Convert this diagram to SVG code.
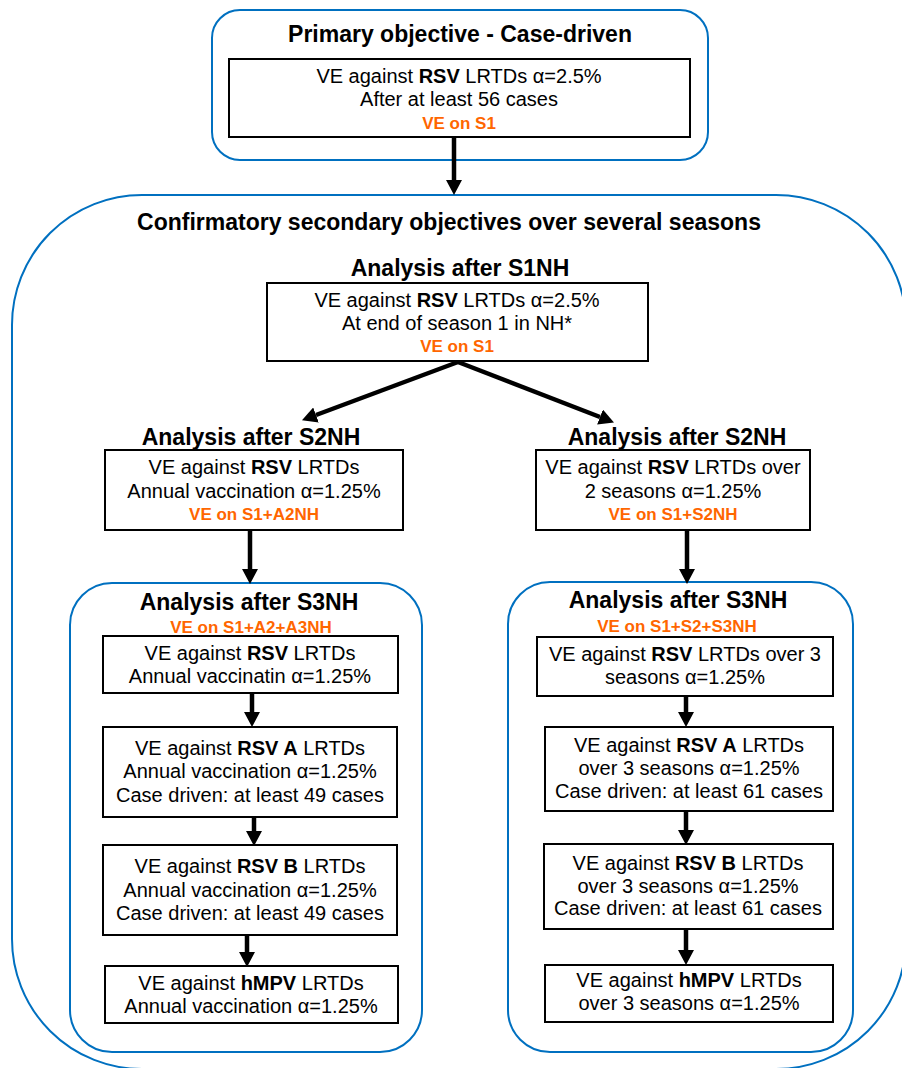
<svg xmlns="http://www.w3.org/2000/svg" width="902" height="1068" viewBox="0 0 902 1068">
<defs>
<style>
text{font-family:"Liberation Sans",Arial,sans-serif;fill:#000;text-anchor:middle}
.h{font-size:23px;font-weight:bold}
.t{font-size:20px}
.o{font-size:17px;font-weight:bold;fill:#FF6600}
.b{font-weight:bold}
.grp{fill:none;stroke:#0070C0;stroke-width:2}
.box{fill:#fff;stroke:#000;stroke-width:2}
.arr{stroke:#000;stroke-width:4.5;fill:none;marker-end:url(#ah)}
</style>
<marker id="ah" markerUnits="userSpaceOnUse" markerWidth="15" markerHeight="16" refX="0" refY="8" orient="auto">
<path d="M0,0 L15,8 L0,16 z" fill="#000"/>
</marker>
</defs>
<rect width="902" height="1068" fill="#fff"/>

<g id="primary">
<rect class="grp" x="212" y="10" width="496" height="150" rx="28"/>
<text class="h" x="460" y="42">Primary objective - Case-driven</text>
<rect class="box" x="229" y="59" width="461" height="78"/>
<text class="t" x="459" y="83">VE against <tspan class="b">RSV</tspan> LRTDs α=2.5%</text>
<text class="t" x="459" y="106">After at least 56 cases</text>
<text class="o" x="459" y="129">VE on S1</text>
</g>

<g id="secondary">
<rect class="grp" x="12" y="195" width="894" height="874" rx="130"/>
<text class="h" x="449" y="230">Confirmatory secondary objectives over several seasons</text>
</g>

<g id="s1nh">
<text class="h" x="460" y="276">Analysis after S1NH</text>
<rect class="box" x="267" y="283" width="381" height="78"/>
<text class="t" x="457" y="307">VE against <tspan class="b">RSV</tspan> LRTDs α=2.5%</text>
<text class="t" x="457" y="330">At end of season 1 in NH*</text>
<text class="o" x="457" y="352">VE on S1</text>
</g>

<g id="s2nh-left">
<text class="h" x="251" y="445">Analysis after S2NH</text>
<rect class="box" x="105" y="450" width="298" height="80"/>
<text class="t" x="254" y="474">VE against <tspan class="b">RSV</tspan> LRTDs</text>
<text class="t" x="254" y="498">Annual vaccination α=1.25%</text>
<text class="o" x="254" y="520">VE on S1+A2NH</text>
</g>

<g id="s2nh-right">
<text class="h" x="677" y="445">Analysis after S2NH</text>
<rect class="box" x="536" y="450" width="274" height="80"/>
<text class="t" x="673" y="474">VE against <tspan class="b">RSV</tspan> LRTDs over</text>
<text class="t" x="673" y="498">2 seasons α=1.25%</text>
<text class="o" x="673" y="520">VE on S1+S2NH</text>
</g>

<g id="s3nh-left">
<rect class="grp" x="70" y="583" width="352" height="469" rx="42"/>
<text class="h" x="249" y="610">Analysis after S3NH</text>
<text class="o" x="251" y="633">VE on S1+A2+A3NH</text>
</g>
<g id="l-rsv">
<rect class="box" x="103" y="636" width="295" height="57"/>
<text class="t" x="250" y="660">VE against <tspan class="b">RSV</tspan> LRTDs</text>
<text class="t" x="250" y="683">Annual vaccinatin α=1.25%</text>
</g>
<g id="l-rsva">
<rect class="box" x="103" y="727" width="294" height="90"/>
<text class="t" x="250" y="755">VE against <tspan class="b">RSV A</tspan> LRTDs</text>
<text class="t" x="250" y="778">Annual vaccination α=1.25%</text>
<text class="t" x="250" y="802">Case driven: at least 49 cases</text>
</g>
<g id="l-rsvb">
<rect class="box" x="103" y="845" width="294" height="90"/>
<text class="t" x="250" y="873">VE against <tspan class="b">RSV B</tspan> LRTDs</text>
<text class="t" x="250" y="897">Annual vaccination α=1.25%</text>
<text class="t" x="250" y="920">Case driven: at least 49 cases</text>
</g>
<g id="l-hmpv">
<rect class="box" x="105" y="966" width="293" height="57"/>
<text class="t" x="251" y="990">VE against <tspan class="b">hMPV</tspan> LRTDs</text>
<text class="t" x="251" y="1013">Annual vaccination α=1.25%</text>
</g>

<g id="s3nh-right">
<rect class="grp" x="508" y="582" width="345" height="470" rx="42"/>
<text class="h" x="678" y="608">Analysis after S3NH</text>
<text class="o" x="677" y="632">VE on S1+S2+S3NH</text>
</g>
<g id="r-rsv">
<rect class="box" x="537" y="637" width="296" height="59"/>
<text class="t" x="685" y="661">VE against <tspan class="b">RSV</tspan> LRTDs over 3</text>
<text class="t" x="685" y="684">seasons α=1.25%</text>
</g>
<g id="r-rsva">
<rect class="box" x="545" y="727" width="288" height="84"/>
<text class="t" x="689" y="752">VE against <tspan class="b">RSV A</tspan> LRTDs</text>
<text class="t" x="689" y="775">over 3 seasons α=1.25%</text>
<text class="t" x="689" y="798">Case driven: at least 61 cases</text>
</g>
<g id="r-rsvb">
<rect class="box" x="544" y="844" width="289" height="85"/>
<text class="t" x="688" y="870">VE against <tspan class="b">RSV B</tspan> LRTDs</text>
<text class="t" x="688" y="893">over 3 seasons α=1.25%</text>
<text class="t" x="688" y="915">Case driven: at least 61 cases</text>
</g>
<g id="r-hmpv">
<rect class="box" x="545" y="965" width="288" height="57"/>
<text class="t" x="689" y="987">VE against <tspan class="b">hMPV</tspan> LRTDs</text>
<text class="t" x="689" y="1010">over 3 seasons α=1.25%</text>
</g>

<g id="connectors">
<line class="arr" x1="454" y1="137" x2="454" y2="180"/>
<line class="arr" x1="458" y1="362" x2="316" y2="415"/>
<line class="arr" x1="458" y1="362" x2="600" y2="417"/>
<line class="arr" x1="250" y1="530" x2="250" y2="569"/>
<line class="arr" x1="687" y1="530" x2="687" y2="569"/>
<line class="arr" x1="252" y1="693" x2="252" y2="712"/>
<line class="arr" x1="254" y1="817" x2="254" y2="831"/>
<line class="arr" x1="247" y1="935" x2="247" y2="952"/>
<line class="arr" x1="686" y1="696" x2="686" y2="712"/>
<line class="arr" x1="686" y1="811" x2="686" y2="830"/>
<line class="arr" x1="686" y1="929" x2="686" y2="950"/>
</g>
</svg>
